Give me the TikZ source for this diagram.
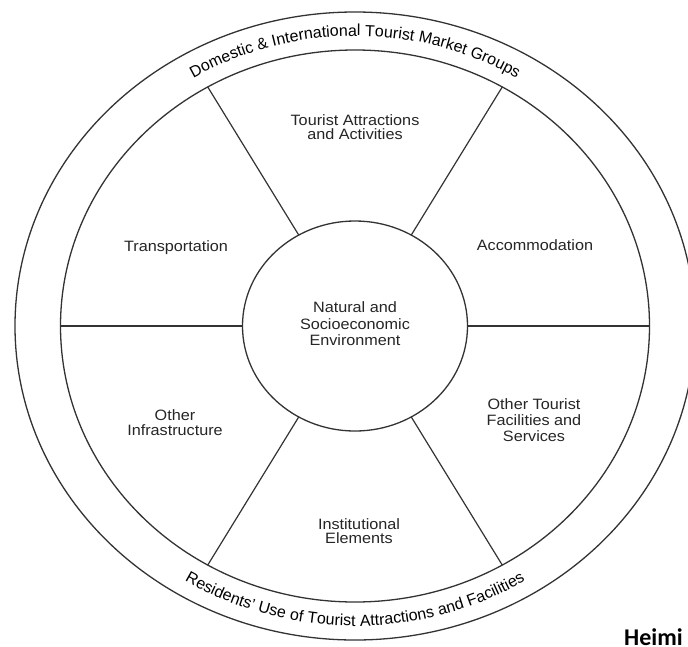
\documentclass[tikz,border=0pt]{standalone}
\usepackage{fontspec}
\setmainfont{Liberation Sans}
\newfontfamily\calib{Carlito}
\usetikzlibrary{calc,decorations.text,shapes.geometric}
\newcommand\curvefont{\fontsize{16}{16}\selectfont}
\begin{document}
\begin{tikzpicture}[x=1pt,y=1pt,
  ring/.style={draw=black!80, line width=1.3pt},
  spoke/.style={draw=black!80, line width=1.2pt},
  lbl/.style={align=center, xscale=1.08, text=black!85, inner sep=0pt},
]
\useasboundingbox (0,0) rectangle (688,-646);
\fill[white] (0,0) rectangle (688,-646);
\begin{scope}
\clip (0,0) rectangle (688,-646);
\coordinate (C) at (355,-326);
% rings
\draw[ring] (C) ellipse [x radius=340, y radius=314];
\draw[ring] (C) ellipse [x radius=294.5, y radius=276];
% centre
\node[ring, ellipse, minimum width=225pt, minimum height=210pt, inner sep=0pt,
      align=center, text=black!85, font=\fontsize{15}{16.4}\selectfont]
  (env) at (C) {\raisebox{-3pt}{\scalebox{1.08}[1]{\begin{tabular}{@{}c@{}}Natural and\\Socioeconomic\\Environment\end{tabular}}}};
% spokes
\foreach \a/\n in {0/a,60/b,120/c,180/d,240/e,300/f} {
  \coordinate (i\n) at ($(C)+(\a:112.5pt and 105pt)$);
  \coordinate (o\n) at ($(C)+(\a:294.5pt and 276pt)$);
  \draw[spoke] (i\n) -- (o\n);
}
% sector labels
\node[lbl, font=\fontsize{15}{14.3}\selectfont] (tour) at (355,-127) {Tourist Attractions\\and Activities};
\node[lbl, font=\fontsize{15}{15}\selectfont] (trans) at (176,-248) {Transportation};
\node[lbl, font=\fontsize{15}{15}\selectfont] (acc) at (535,-245) {Accommodation};
\node[lbl, font=\fontsize{15}{15}\selectfont] (infra) at (175,-423) {Other\\Infrastructure};
\node[lbl, font=\fontsize{15}{16}\selectfont] (fac) at (534,-420) {Other Tourist\\Facilities and\\Services};
\node[lbl, font=\fontsize{15}{14}\selectfont] (inst) at (359,-531) {Institutional\\Elements};
% curved texts
\coordinate (t0) at ($(C)+(150:311pt and 290pt)$);
\path[decorate, decoration={text along path, text align=center,
   text={|\curvefont|Domestic {\&} International Tourist Market Groups}}]
   (t0) arc[start angle=150, end angle=30, x radius=311pt, y radius=290pt];
\coordinate (b0) at ($(C)+(210:322pt and 300pt)$);
\path[decorate, decoration={text along path, text align=center,
   text={|\curvefont|Residents' Use of Tourist Attractions and Facilities}}]
   (b0) arc[start angle=210, end angle=330, x radius=322pt, y radius=300pt];
% cut-off caption
\node[anchor=base west, inner sep=0pt, font=\calib\bfseries\fontsize{24}{24}\selectfont] (heimi) at (624,-645) {Heimi};
\end{scope}
\end{tikzpicture}
\end{document}
